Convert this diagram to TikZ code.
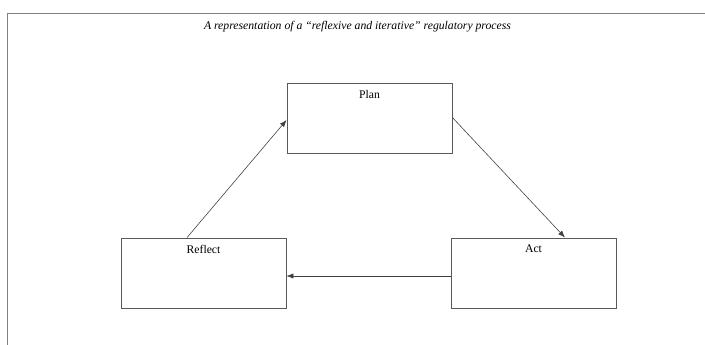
\documentclass[tikz,border=0pt]{standalone}
\usepackage{fontspec}
\setmainfont{Liberation Serif}
\usetikzlibrary{calc,arrows.meta}

\begin{document}
\begin{tikzpicture}[x = 0.03cm, y = -0.03cm, >={Latex[length=6pt, width=4.5pt]},
  stage/.style = {draw = black!65, line width = 0.7pt, minimum width = 4.95cm, minimum height = 2.1cm, inner sep = 0pt},
  stagename/.style = {anchor = north, font = \fontsize{10}{12}\selectfont, inner sep = 0pt},
  flow/.style = {->, draw = black!75, line width = 0.5pt}]
\useasboundingbox (0,0) rectangle (705,345);
\draw[gray, line width = 0.8pt] (7,345) -- (7,13) -- (705,13);
\node[font = \fontsize{10}{12}\selectfont\itshape] (title) at (357.5,27) {A representation of a ``reflexive and iterative'' regulatory process};
\node[stage] (plan) at (369.5,118.5) {};
\node[stage] (reflect) at (203.5,273) {};
\node[stage] (act) at (533.5,273) {};
\node[stagename] (plantext) at ($(plan.north)+(0,7)$) {Plan};
\node[stagename] (reflecttext) at ($(reflect.north)+(0,7)$) {Reflect};
\node[stagename] (acttext) at ($(act.north)+(0,7)$) {Act};
\draw[flow] ($(reflect.north)+(-16.5,0)$) -- ($(plan.west)+(0,1.5)$);
\draw[flow] ($(plan.east)+(0,-1)$) -- ($(act.north)+(31.5,0)$);
\draw[flow] ($(act.west)+(0,3)$) -- ($(reflect.east)+(0,3)$);
\end{tikzpicture}
\end{document}
